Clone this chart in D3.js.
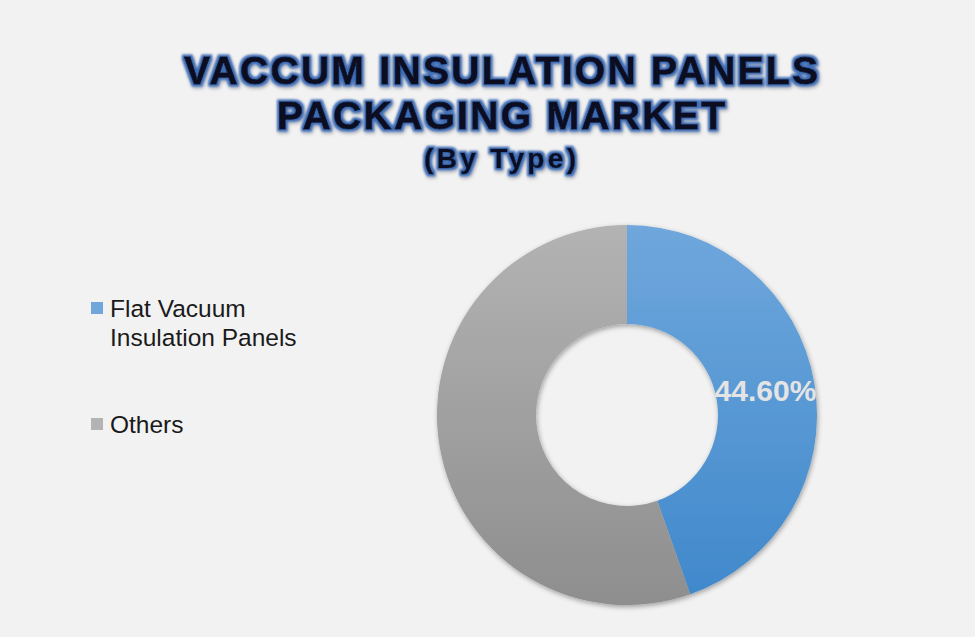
<!DOCTYPE html>
<html>
<head>
<meta charset="utf-8">
<script src="https://cdn.jsdelivr.net/npm/d3@7"></script>
<style>
  body { margin: 0; background: #f2f2f2; }
  svg { display: block; }
</style>
</head>
<body>
<div id="chart"></div>
<script>
var categories = ["Flat Vacuum Insulation Panels", "Others"];
var shares = [44.6, 55.4];
var showLabel = [true, false];
var legendLines = [["Flat Vacuum", "Insulation Panels"], ["Others"]];
var titleLines = ["VACCUM INSULATION PANELS", "PACKAGING MARKET"];
var subTitle = "(By Type)";

var width = 975, height = 637;
var svg = d3.select("#chart").append("svg")
    .attr("width", width)
    .attr("height", height);

svg.append("rect").attr("width", width).attr("height", height).attr("fill", "#f2f2f2");

var defs = svg.append("defs");

// gradients for slices
var grads = [["#6fa7dc", "#3f88cb"], ["#b3b3b3", "#8e8e8e"]];
grads.forEach(function(g, i){
    var lg = defs.append("linearGradient")
        .attr("id", "g" + i)
        .attr("gradientUnits", "userSpaceOnUse")
        .attr("x1", 0).attr("y1", -190).attr("x2", 0).attr("y2", 190);
    lg.append("stop").attr("offset", "0%").attr("stop-color", g[0]);
    lg.append("stop").attr("offset", "100%").attr("stop-color", g[1]);
});

var shadow = defs.append("filter").attr("id", "shadow")
    .attr("x", "-20%").attr("y", "-20%").attr("width", "140%").attr("height", "140%");
shadow.append("feDropShadow").attr("dx", 1).attr("dy", 2).attr("stdDeviation", 2.5)
    .attr("flood-color", "#000").attr("flood-opacity", 0.35);

var glow = defs.append("filter").attr("id", "glow")
    .attr("x", "-10%").attr("y", "-30%").attr("width", "120%").attr("height", "160%");
glow.append("feMorphology").attr("in", "SourceAlpha").attr("operator", "dilate").attr("radius", 2).attr("result", "d");
glow.append("feFlood").attr("flood-color", "#3b69b3");
glow.append("feComposite").attr("in2", "d").attr("operator", "in").attr("result", "outline");
glow.append("feGaussianBlur").attr("in", "outline").attr("stdDeviation", 1.1).attr("result", "ob");
glow.append("feDropShadow").attr("in", "ob").attr("dx", 1).attr("dy", 2).attr("stdDeviation", 1.6)
    .attr("flood-color", "#000").attr("flood-opacity", 0.3).attr("result", "obs");
var merge = glow.append("feMerge");
merge.append("feMergeNode").attr("in", "obs");
merge.append("feMergeNode").attr("in", "SourceGraphic");

// title
var title = svg.append("g").attr("filter", "url(#glow)")
    .attr("font-family", "'Liberation Sans', Arial, sans-serif")
    .attr("font-weight", "bold")
    .attr("fill", "#0a0f24")
    .attr("text-anchor", "middle");

var titleY = [84, 129];
var titleLen = [634, 448];
titleLines.forEach(function(t, i){
    title.append("text")
        .attr("x", 501).attr("y", titleY[i])
        .attr("font-size", 39)
        .attr("stroke", "#0a0f24")
        .attr("stroke-width", 0.8)
        .attr("textLength", titleLen[i])
        .attr("lengthAdjust", "spacing")
        .text(t);
});
title.append("text")
    .attr("x", 500).attr("y", 168)
    .attr("font-size", 28)
    .attr("stroke", "#0a0f24")
    .attr("stroke-width", 0.5)
    .attr("textLength", 152)
    .attr("lengthAdjust", "spacing")
    .text(subTitle);

// donut
var cx = 627, cy = 415, outerR = 190, innerR = 91;
var pie = d3.pie().sort(null).value(function(d){ return d; });
var arc = d3.arc().innerRadius(innerR).outerRadius(outerR);
var arcs = pie(shares);

var donut = svg.append("g").attr("transform", "translate(" + cx + "," + cy + ")");
donut.append("g").attr("filter", "url(#shadow)")
    .selectAll("path")
    .data(arcs)
    .enter()
    .append("path")
    .attr("d", arc)
    .attr("fill", function(d, i){ return "url(#g" + i + ")"; });

donut.selectAll("text.lbl")
    .data(arcs.filter(function(d, i){ return showLabel[i]; }))
    .enter()
    .append("text")
    .attr("class", "lbl")
    .attr("x", function(d){ return arc.centroid(d)[0]; })
    .attr("y", function(d){ return arc.centroid(d)[1] + 10; })
    .attr("text-anchor", "middle")
    .attr("font-family", "'Liberation Sans', Arial, sans-serif")
    .attr("font-weight", "bold")
    .attr("font-size", 30)
    .attr("fill", "#e4e4e4")
    .text(function(d){ return d.data.toFixed(2) + "%"; });

// legend
var legendY = [302, 418];
var legend = svg.append("g")
    .attr("font-family", "'Liberation Sans', Arial, sans-serif")
    .attr("font-size", 24.5)
    .attr("fill", "#1a1a1a");
var item = legend.selectAll("g")
    .data(categories)
    .enter()
    .append("g")
    .attr("transform", function(d, i){ return "translate(91," + legendY[i] + ")"; });
item.append("rect")
    .attr("x", 0).attr("y", 0)
    .attr("width", 12).attr("height", 12)
    .attr("fill", function(d, i){ return grads[i][0]; });
item.each(function(d, i){
    var t = d3.select(this).append("text").attr("x", 19).attr("y", 15);
    legendLines[i].forEach(function(line, j){
        t.append("tspan").attr("x", 19).attr("dy", j === 0 ? 0 : 29).text(line);
    });
});
</script>
</body>
</html>
